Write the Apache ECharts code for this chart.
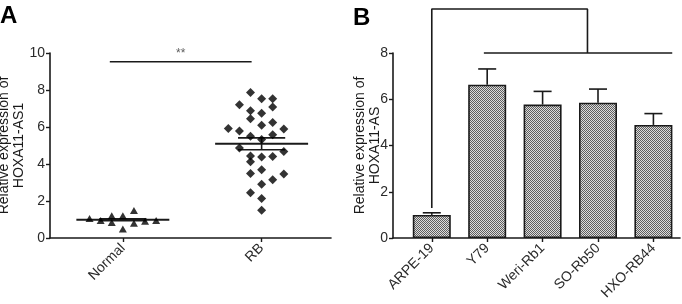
<!DOCTYPE html>
<html>
<head>
<meta charset="utf-8">
<script src="https://cdn.jsdelivr.net/npm/echarts@6/dist/echarts.min.js"></script>
<style>
  html, body { margin: 0; padding: 0; background: #fff; }
  #chart { width: 682px; height: 304px; }
</style>
</head>
<body>
<div id="chart"></div>
<script>
// panel A: dot plot
const groupsA = ['Normal', 'RB']
const normalOffsets = [-0.24, -0.16, -0.08, -0.08, 0, 0, 0.08, 0.08, 0.16, 0.24]
const normalValues = [1.06, 0.95, 1.2, 0.84, 1.2, 0.49, 1.49, 0.8, 0.9, 0.95]
const rbOffsets = [-0.08, 0, 0.08, -0.16, 0.08, -0.08, 0, -0.08, 0.08, 0, -0.24, -0.16, 0.16, -0.08, 0.08,
  0, -0.16, 0.16, -0.08, 0, 0.08, -0.08, -0.08, 0, 0.16, 0.08, 0, -0.08, 0, 0]
const rbValues = [7.87, 7.53, 7.53, 7.2, 7.08, 6.88, 6.74, 6.45, 6.25, 6.1, 5.92, 5.78, 5.89, 5.5, 5.58,
  5.33, 4.86, 4.68, 4.43, 4.38, 4.41, 4.12, 3.48, 3.69, 3.46, 3.15, 2.9, 2.44, 2.14, 1.5]
const meanA = [0.99, 5.09]
const semA = [0.05, 0.32]
const ticksA = [0, 2, 4, 6, 8, 10]
const sigA = { from: 0.906, to: 1.928, y: 9.53, text: '**' }

// panel B: bars
const cellLines = ['ARPE-19', 'Y79', 'Weri-Rb1', 'SO-Rb50', 'HXO-RB44']
const expression = [1.0, 6.63, 5.77, 5.85, 4.89]
const expressionErr = [0.09, 0.68, 0.57, 0.59, 0.49]
const ticksB = [0, 2, 4, 6, 8]
const bracketB = [[0, 1.3], [0, 9.9], [2.81, 9.9], [2.81, 8.0]]
const groupLineB = [[0.94, 8.0], [4.34, 8.0]]

const font = 'Liberation Sans, Arial, sans-serif'
const ink = '#1a1a1a'

// checkered fill like the original bars
const tex = document.createElement('canvas')
tex.width = 2
tex.height = 2
const tctx = tex.getContext('2d')
tctx.fillStyle = '#dcdcdc'
tctx.fillRect(0, 0, 2, 2)
tctx.fillStyle = '#5e5e5e'
tctx.fillRect(0, 0, 1, 1)
tctx.fillRect(1, 1, 1, 1)

const chart = echarts.init(document.getElementById('chart'))

const axisLine = { lineStyle: { color: ink, width: 1.6 } }
const axisTick = { length: 4, lineStyle: { color: ink, width: 1.4 } }
const labelStyle = { color: '#2a2a2a', fontFamily: font, fontSize: 14 }
const nameStyle = { color: ink, fontFamily: font, fontSize: 14, lineHeight: 15 }

const hline = (api, x1, x2, y, width) => {
  const a = api.coord([x1, y])
  const b = api.coord([x2, y])
  return { type: 'line', shape: { x1: a[0], y1: a[1], x2: b[0], y2: b[1] }, style: { stroke: ink, lineWidth: width } }
}

chart.setOption({
  animation: false,
  title: [
    { text: 'A', left: 0, top: 4, padding: 0, textStyle: { fontFamily: font, fontSize: 24, fontWeight: 'bold', color: '#000' } },
    { text: 'B', left: 353, top: 6, padding: 0, textStyle: { fontFamily: font, fontSize: 24, fontWeight: 'bold', color: '#000' } }
  ],
  grid: [
    { left: 50, right: 351, top: 53, bottom: 66, outerBoundsMode: 'none' },
    { left: 393, right: 2, top: 53, bottom: 66, outerBoundsMode: 'none' }
  ],
  xAxis: [{
    gridIndex: 0,
    type: 'value',
    min: 0.475,
    max: 2.5,
    splitLine: { show: false },
    axisLine: { ...axisLine, onZero: false },
    axisTick: { ...axisTick, customValues: [1, 2] },
    axisLabel: { ...labelStyle, rotate: 45, margin: 8, customValues: [1, 2], formatter: v => groupsA[Math.round(v) - 1] }
  }, {
    gridIndex: 1,
    type: 'value',
    min: -0.7,
    max: 4.48,
    splitLine: { show: false },
    axisLine: { ...axisLine, onZero: false },
    axisTick: { ...axisTick, customValues: [0, 1, 2, 3, 4] },
    axisLabel: { ...labelStyle, rotate: 45, margin: 8, customValues: [0, 1, 2, 3, 4], formatter: v => cellLines[Math.round(v)] }
  }],
  yAxis: [{
    gridIndex: 0,
    type: 'value',
    min: 0,
    max: 10,
    interval: 2,
    splitLine: { show: false },
    axisLine: { ...axisLine, show: true, onZero: false },
    axisTick: { ...axisTick, show: true, customValues: ticksA },
    axisLabel: { ...labelStyle, margin: 5, customValues: ticksA },
    name: 'Relative expression of\nHOXA11-AS1',
    nameLocation: 'middle',
    nameRotate: 90,
    nameGap: 23,
    nameMoveOverlap: false,
    nameTextStyle: nameStyle
  }, {
    gridIndex: 1,
    type: 'value',
    min: 0,
    max: 8,
    interval: 2,
    splitLine: { show: false },
    axisLine: { ...axisLine, show: true, onZero: false },
    axisTick: { ...axisTick, show: true, customValues: ticksB },
    axisLabel: { ...labelStyle, margin: 5, customValues: ticksB },
    name: 'Relative expression of\nHOXA11-AS',
    nameLocation: 'middle',
    nameRotate: 90,
    nameGap: 10,
    nameMoveOverlap: false,
    nameTextStyle: nameStyle
  }],
  series: [
    {
      type: 'scatter',
      xAxisIndex: 0,
      yAxisIndex: 0,
      symbol: 'triangle',
      symbolSize: [8, 7],
      itemStyle: { color: '#000' },
      data: normalValues.map((v, i) => [1 + normalOffsets[i], v])
    },
    {
      type: 'scatter',
      xAxisIndex: 0,
      yAxisIndex: 0,
      symbol: 'diamond',
      symbolSize: 9,
      itemStyle: { color: '#000' },
      data: rbValues.map((v, i) => [2 + rbOffsets[i], v])
    },
    {
      // mean +/- SEM
      type: 'custom',
      xAxisIndex: 0,
      yAxisIndex: 0,
      data: meanA.map((m, i) => [i + 1, m, semA[i]]),
      renderItem: (params, api) => {
        const x = api.value(0)
        const m = api.value(1)
        const e = api.value(2)
        const top = api.coord([x, m + e])
        const bot = api.coord([x, m - e])
        return {
          type: 'group',
          children: [
            hline(api, x - 0.335, x + 0.335, m, 2),
            hline(api, x - 0.17, x + 0.17, m + e, 1.6),
            hline(api, x - 0.17, x + 0.17, m - e, 1.6),
            { type: 'line', shape: { x1: top[0], y1: top[1], x2: bot[0], y2: bot[1] }, style: { stroke: ink, lineWidth: 1.6 } }
          ]
        }
      }
    },
    {
      type: 'line',
      xAxisIndex: 0,
      yAxisIndex: 0,
      symbol: 'none',
      lineStyle: { color: ink, width: 1.6 },
      data: [[sigA.from, sigA.y], [sigA.to, sigA.y]]
    },
    {
      type: 'scatter',
      xAxisIndex: 0,
      yAxisIndex: 0,
      symbolSize: 0,
      label: { show: true, position: 'top', distance: 2, formatter: sigA.text, color: '#333', fontFamily: font, fontSize: 12 },
      data: [[(sigA.from + sigA.to) / 2, sigA.y]]
    },
    {
      type: 'bar',
      xAxisIndex: 1,
      yAxisIndex: 1,
      barWidth: 38,
      itemStyle: { color: { image: tex, repeat: 'repeat' }, borderColor: ink, borderWidth: 1.6 },
      data: expression.map((v, i) => [i, v])
    },
    {
      type: 'custom',
      xAxisIndex: 1,
      yAxisIndex: 1,
      data: expression.map((v, i) => [i, v, expressionErr[i]]),
      renderItem: (params, api) => {
        const base = api.coord([api.value(0), api.value(1)])
        const top = api.coord([api.value(0), api.value(1) + api.value(2)])
        return {
          type: 'group',
          children: [
            { type: 'line', shape: { x1: base[0], y1: base[1], x2: top[0], y2: top[1] }, style: { stroke: ink, lineWidth: 1.6 } },
            { type: 'line', shape: { x1: top[0] - 9, y1: top[1], x2: top[0] + 9, y2: top[1] }, style: { stroke: ink, lineWidth: 1.6 } }
          ]
        }
      }
    },
    {
      type: 'line',
      xAxisIndex: 1,
      yAxisIndex: 1,
      symbol: 'none',
      clip: false,
      lineStyle: { color: ink, width: 1.6 },
      data: bracketB
    },
    {
      type: 'line',
      xAxisIndex: 1,
      yAxisIndex: 1,
      symbol: 'none',
      clip: false,
      lineStyle: { color: ink, width: 1.6 },
      data: groupLineB
    }
  ]
})
</script>
</body>
</html>
